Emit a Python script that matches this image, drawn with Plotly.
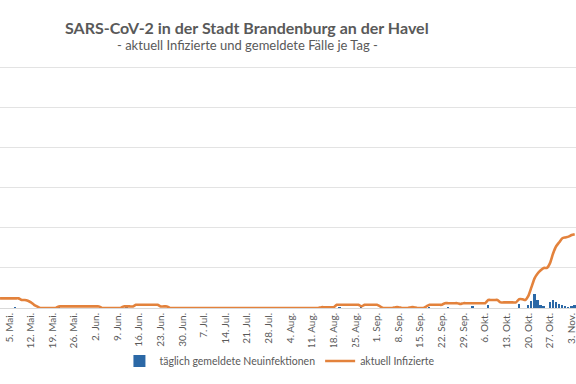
import pandas as pd
import plotly.graph_objects as go

# ---- data ----
start_date = "2020-05-02"

# aktuell Infizierte, one value per day (May 2 .. Nov 4)
aktiv_mai = [12, 12, 12, 12, 12, 12, 12, 10, 10, 9, 7, 4, 2, 0, 0, 0, 0, 0, 0,
             2, 2, 2, 2, 2, 2, 2, 2, 2, 2, 2]
aktiv_jun = [2, 2, 2, 0, 0, 0, 0, 0, 0, 0, 2, 2, 2, 2, 4, 4, 4, 4, 4, 4, 4, 4,
             2, 2, 2, 0, 0, 0, 0, 0]
aktiv_jul = [0, 0, 0, 0, 0, 0, 0, 0, 0, 0, 0, 0, 0, 0, 0, 0, 0, 0, 0, 0, 0, 0,
             0, 0, 0, 0, 0, 0, 0, 0, 0]
aktiv_aug = [0, 0, 0, 0, 0, 0, 0, 0, 0, 0, 0, 0, 0, 1, 1, 1, 1, 1, 4, 4, 4, 4,
             4, 4, 4, 4, 2, 4, 4, 4, 4]
aktiv_sep = [4, 2, 0, 0, 0, 0, 1, 1, 0, 0, 0, 1, 1, 0, 0, 0, 2, 4, 4, 4, 4, 4,
             6, 6, 6, 6, 6, 5, 6, 6]
aktiv_okt = [6, 6, 6, 6, 6, 6, 10, 10, 10, 10, 7, 7, 7, 7, 7, 7, 11, 11, 10,
             15, 26, 37, 43, 47, 50, 50, 56, 68, 77, 82, 87]
aktiv_nov = [88, 89, 91, 92]

# täglich gemeldete Neuinfektionen
neu_mai = [0, 0, 0, 0, 0, 1, 0, 0, 0, 0, 0, 0, 0, 0, 0, 0, 0, 0, 0, 1, 0, 0,
           0, 0, 0, 0, 0, 0, 0, 0]
neu_jun = [0, 0, 0, 0, 0, 0, 0, 0, 0, 0, 0, 1, 0, 0, 0, 0, 0, 0, 0, 0, 0, 0,
           0, 0, 0, 0, 0, 0, 0, 0]
neu_jul = [0, 0, 0, 0, 0, 0, 0, 0, 0, 0, 0, 0, 0, 0, 0, 0, 0, 0, 0, 0, 0, 0,
           0, 0, 0, 0, 0, 0, 0, 0, 0]
neu_aug = [0, 0, 0, 0, 0, 0, 0, 0, 0, 0, 0, 0, 0, 0, 0, 0, 0, 0, 0, 1, 0, 0,
           0, 0, 0, 0, 1, 0, 0, 0, 0]
neu_sep = [0, 0, 0, 0, 0, 0, 0, 1, 0, 0, 0, 1, 0, 0, 0, 0, 0, 1, 0, 0, 0, 0,
           0, 1, 0, 0, 0, 0, 0, 0]
neu_okt = [0, 2, 0, 0, 0, 0, 4, 0, 0, 0, 0, 0, 0, 0, 0, 0, 5, 0, 0, 4, 9, 17,
           10, 4, 2, 0, 8, 10, 8, 5, 4]
neu_nov = [2, 1, 3, 4]

tick_dates = ["2020-05-05", "2020-05-12", "2020-05-19", "2020-05-26",
              "2020-06-02", "2020-06-09", "2020-06-16", "2020-06-23",
              "2020-06-30", "2020-07-07", "2020-07-14", "2020-07-21",
              "2020-07-28", "2020-08-04", "2020-08-11", "2020-08-18",
              "2020-08-25", "2020-09-01", "2020-09-08", "2020-09-15",
              "2020-09-22", "2020-09-29", "2020-10-06", "2020-10-13",
              "2020-10-20", "2020-10-27", "2020-11-03"]
tick_labels = ["5. Mai.", "12. Mai.", "19. Mai.", "26. Mai.", "2. Jun.",
               "9. Jun.", "16. Jun.", "23. Jun.", "30. Jun.", "7. Jul.",
               "14. Jul.", "21. Jul.", "28. Jul.", "4. Aug.", "11. Aug.",
               "18. Aug.", "25. Aug.", "1. Sep.", "8. Sep.", "15. Sep.",
               "22. Sep.", "29. Sep.", "6. Okt.", "13. Okt.", "20. Okt.",
               "27. Okt.", "3. Nov."]

title_text = "<b>SARS-CoV-2 in der Stadt Brandenburg an der Havel</b>"
subtitle_text = "- aktuell Infizierte und gemeldete Fälle je Tag -"

aktiv = aktiv_mai + aktiv_jun + aktiv_jul + aktiv_aug + aktiv_sep + aktiv_okt + aktiv_nov
neu = neu_mai + neu_jun + neu_jul + neu_aug + neu_sep + neu_okt + neu_nov
dates = pd.date_range(start_date, periods=len(aktiv), freq="D")

TXT = "#595959"
FONT = "Lato"
PLOT_T = 65
PLOT_H = 243


def paper_y(px):
    """pixel row in the figure -> paper y coordinate"""
    return 1 + (PLOT_T - px) / PLOT_H


fig = go.Figure()
fig.add_trace(go.Bar(
    x=dates, y=neu, name="täglich gemeldete Neuinfektionen",
    marker=dict(color="#2B68A6", line=dict(width=0)),
    width=0.62 * 86400000,
))
fig.add_trace(go.Scatter(
    x=dates, y=aktiv, name="aktuell Infizierte", mode="lines",
    line=dict(color="#E3823C", width=2.6, shape="spline", smoothing=0.6),
))

fig.update_layout(
    width=576, height=384,
    paper_bgcolor="white", plot_bgcolor="white",
    margin=dict(l=0, r=0, t=PLOT_T, b=384 - PLOT_T - PLOT_H, autoexpand=False),
    font=dict(family=FONT, color=TXT, size=11),
    annotations=[
        dict(text=title_text, xref="paper", yref="paper",
             x=247 / 576, y=paper_y(27), xanchor="center", yanchor="middle",
             showarrow=False, font=dict(family=FONT, size=16, color=TXT)),
        dict(text=subtitle_text, xref="paper", yref="paper",
             x=247 / 576, y=paper_y(45), xanchor="center", yanchor="middle",
             showarrow=False, font=dict(family=FONT, size=13, color=TXT)),
    ],
    showlegend=True,
    legend=dict(
        orientation="h", x=0.486, xanchor="center",
        y=paper_y(361), yanchor="middle",
        font=dict(family=FONT, size=10.5, color=TXT),
        itemwidth=30, tracegroupgap=0,
    ),
    bargap=0,
)
fig.update_xaxes(
    type="date",
    range=["2020-05-01 23:40", "2020-11-04 10:00"],
    tickmode="array", tickvals=tick_dates, ticktext=tick_labels,
    tickangle=-90, ticks="", showgrid=False, ticklabeloverflow="allow",
    showline=True, linecolor="#D9D9D9", linewidth=1,
    tickfont=dict(family=FONT, size=10, color=TXT),
)
fig.update_yaxes(
    range=[0, 303], dtick=50, showticklabels=False,
    showgrid=True, gridcolor="#E3E3E3", gridwidth=1, zeroline=False,
)

fig.write_html("out.html", config={"displayModeBar": False},
               post_script="document.body.style.margin='0';")
